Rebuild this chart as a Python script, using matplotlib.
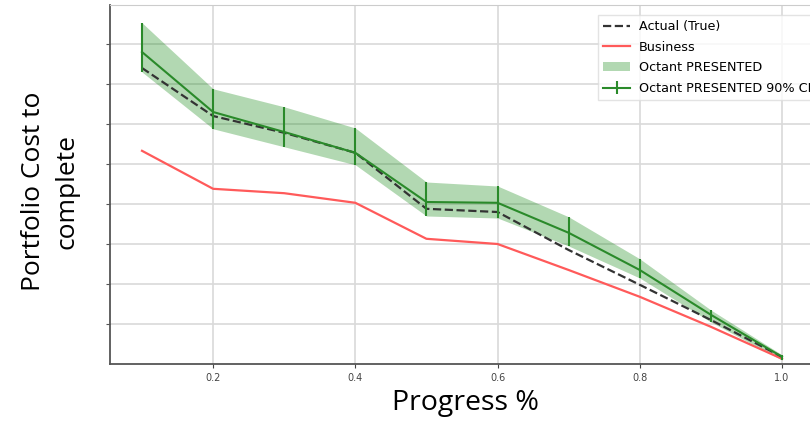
import numpy as np
import matplotlib
matplotlib.use("Agg")
import matplotlib.pyplot as plt

progress = [0.1, 0.2, 0.3, 0.4, 0.5, 0.6, 0.7, 0.8, 0.9, 1.0]
actual = [7.4, 6.2, 5.78, 5.28, 3.88, 3.8, 2.85, 1.98, 1.1, 0.18]
business = [5.33, 4.38, 4.27, 4.03, 3.13, 3.0, 2.35, 1.68, 0.93, 0.13]
octant = [7.8, 6.3, 5.8, 5.28, 4.05, 4.03, 3.28, 2.35, 1.23, 0.18]
ci_low = [7.3, 5.88, 5.43, 4.98, 3.7, 3.65, 2.95, 2.15, 1.05, 0.1]
ci_high = [8.53, 6.88, 6.43, 5.9, 4.55, 4.45, 3.68, 2.63, 1.35, 0.23]

fig = plt.figure(figsize=(8.1, 4.23), dpi=100)
ax = fig.add_axes([110/810, 59/423, 704/810, 359/423])

octant = np.array(octant)
low = octant - np.array(ci_low)
high = np.array(ci_high) - octant

ax.plot(progress, actual, '--', color='#333333', lw=1.6, label='Actual (True)', zorder=4)
ax.plot(progress, business, '-', color='#ff5a5a', lw=1.6, label='Business', zorder=3)
ax.fill_between(progress, ci_low, ci_high, color='green', alpha=0.3, lw=0, label='Octant PRESENTED')
ax.errorbar(progress, octant, yerr=[low, high], color='#2a8a2a', lw=1.5, elinewidth=1.5,
            capsize=0, label='Octant PRESENTED 90% CI', zorder=5)

ax.set_xlim(0.055, 1.045)
ax.set_ylim(0, 8.975)
ax.set_xticks([0.2, 0.4, 0.6, 0.8, 1.0])
ax.set_yticks(np.arange(1, 9))
ax.set_yticklabels([])
ax.tick_params(axis='x', labelsize=7, colors='#444444', length=3)
ax.tick_params(axis='y', length=3, colors='#555555')
ax.grid(True, color='#d9d9d9', lw=1.2)
ax.set_axisbelow(True)
for s in ['left', 'bottom']:
    ax.spines[s].set_color('#555555')
    ax.spines[s].set_linewidth(1.3)
for s in ['top', 'right']:
    ax.spines[s].set_color('#cccccc')

ax.legend(loc='upper left', bbox_to_anchor=(598/810, 1 - 15/423),
          bbox_transform=fig.transFigure, fontsize=9.2, frameon=True,
          fancybox=False, edgecolor='#dddddd', borderpad=0.4, labelspacing=0.6,
          handlelength=2.1, handletextpad=0.7, borderaxespad=0)

fig.text(50/810, 1 - 191/423, 'Portfolio Cost to\ncomplete', rotation=90,
         ha='center', va='center', fontsize=19, family='Open Sans', linespacing=1.45)
fig.text(465/810, 1 - 403/423, 'Progress %', ha='center', va='center',
         fontsize=20.5, family='Open Sans')

fig.savefig('out.png', dpi=100)
